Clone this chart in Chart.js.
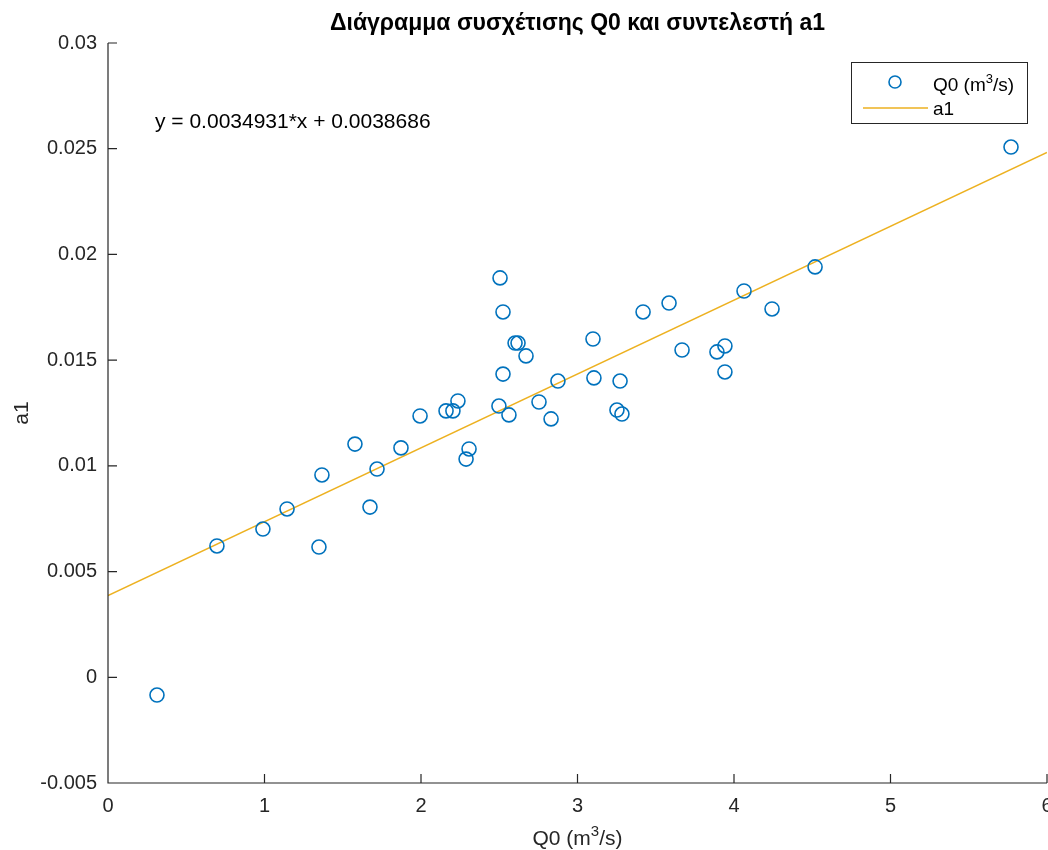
<!DOCTYPE html>
<html>
<head>
<meta charset="utf-8">
<script src="https://cdn.jsdelivr.net/npm/chart.js@4"></script>
<style>
    html, body { margin: 0; padding: 0; background: #ffffff; overflow: hidden; }
    #wrap { width: 1048px; height: 850px; position: relative; }
    canvas { display: block; }
</style>
</head>
<body>
<div id="wrap"><canvas id="grafico"></canvas></div>
<script>
// values
const q0 = [0.313, 0.696, 0.990, 1.144, 1.348, 1.367, 1.578, 1.674, 1.719, 1.872,
    1.994, 2.160, 2.204, 2.236, 2.288, 2.307, 2.505, 2.524, 2.524, 2.498,
    2.562, 2.601, 2.620, 2.671, 2.754, 2.831, 2.875, 3.099, 3.105, 3.252,
    3.284, 3.272, 3.419, 3.585, 3.668, 3.891, 3.942, 3.942, 4.064, 4.243,
    4.518, 5.770];
const a1 = [-0.00084, 0.00621, 0.00701, 0.00796, 0.00616, 0.00957, 0.01103, 0.00805, 0.00985, 0.01085,
    0.01236, 0.01260, 0.01260, 0.01307, 0.01032, 0.01080, 0.01889, 0.01728, 0.01434, 0.01283,
    0.01241, 0.01581, 0.01581, 0.01520, 0.01302, 0.01222, 0.01401, 0.01600, 0.01416, 0.01264,
    0.01245, 0.01401, 0.01728, 0.01770, 0.01548, 0.01539, 0.01567, 0.01444, 0.01827, 0.01742,
    0.01941, 0.02508];

const fitSlope = 0.0034931;
const fitIntercept = 0.0038686;
const fitX = [0, 6];

const xTicks = [0, 1, 2, 3, 4, 5, 6];
const yTicks = [-0.005, 0, 0.005, 0.01, 0.015, 0.02, 0.025, 0.03];

const titulo = "Διάγραμμα συσχέτισης Q0 και συντελεστή a1";
const rotuloY = "a1";
const legendaPontos = "Q0";
const legendaReta = "a1";
const equacao = "y = 0.0034931*x + 0.0038686";

const azul = "#0072BD";
const laranja = "#EDB120";
const texto = "#262626";
const fonte = "'Liberation Sans', Arial, Helvetica, sans-serif";

const pontos = q0.map((x, i) => ({ x: x, y: a1[i] }));
const reta = fitX.map((x) => ({ x: x, y: fitSlope * x + fitIntercept }));

// "Q0 (m³/s)" with a raised 3, drawn left-aligned at (x, y)
function unidade(ctx, prefixo, x, y, tamanho) {
    ctx.textAlign = "left";
    ctx.textBaseline = "alphabetic";
    let cx = x;
    const partes = [prefixo + " (m", "3", "/s)"];
    partes.forEach((p, i) => {
        if (i === 1) {
            ctx.font = Math.round(tamanho * 0.7) + "px " + fonte;
            ctx.fillText(p, cx, y - tamanho * 0.42);
        } else {
            ctx.font = tamanho + "px " + fonte;
            ctx.fillText(p, cx, y);
        }
        cx += ctx.measureText(p).width;
    });
    return cx - x;
}

function larguraUnidade(ctx, prefixo, tamanho) {
    ctx.font = tamanho + "px " + fonte;
    let w = ctx.measureText(prefixo + " (m").width + ctx.measureText("/s)").width;
    ctx.font = Math.round(tamanho * 0.7) + "px " + fonte;
    return w + ctx.measureText("3").width;
}

// inward ticks, axis lines, title, annotation, axis label and legend box
const extras = {
    id: "extras",
    afterDraw(chart) {
        const ctx = chart.ctx;
        const area = chart.chartArea;
        const sx = chart.scales.x;
        const sy = chart.scales.y;
        ctx.save();
        ctx.strokeStyle = texto;
        ctx.lineWidth = 1.2;
        ctx.beginPath();
        ctx.moveTo(area.left, area.top);
        ctx.lineTo(area.left, area.bottom);
        ctx.lineTo(area.right, area.bottom);
        xTicks.forEach((v) => {
            const px = sx.getPixelForValue(v);
            ctx.moveTo(px, area.bottom);
            ctx.lineTo(px, area.bottom - 9);
        });
        yTicks.forEach((v) => {
            const py = sy.getPixelForValue(v);
            ctx.moveTo(area.left, py);
            ctx.lineTo(area.left + 9, py);
        });
        ctx.stroke();

        // title, stretched to the reference width
        ctx.fillStyle = "#000000";
        let tam = 20;
        ctx.font = "bold " + tam + "px " + fonte;
        tam = Math.min(23, tam * 499 / ctx.measureText(titulo).width);
        ctx.font = "bold " + tam.toFixed(1) + "px " + fonte;
        ctx.textAlign = "center";
        ctx.textBaseline = "alphabetic";
        ctx.fillText(titulo, (area.left + area.right) / 2, 30);

        ctx.font = "21px " + fonte;
        ctx.textAlign = "left";
        ctx.fillText(equacao, 155, 128);

        // x axis title
        ctx.fillStyle = texto;
        const w = larguraUnidade(ctx, "Q0", 21);
        unidade(ctx, "Q0", (area.left + area.right) / 2 - w / 2, 845, 21);

        // legend
        ctx.fillStyle = "#ffffff";
        ctx.fillRect(851, 62, 176, 61);
        ctx.strokeStyle = texto;
        ctx.lineWidth = 1;
        ctx.strokeRect(851.5, 62.5, 176, 61);
        ctx.strokeStyle = azul;
        ctx.lineWidth = 1.6;
        ctx.beginPath();
        ctx.arc(895, 82, 6, 0, Math.PI * 2);
        ctx.stroke();
        ctx.strokeStyle = laranja;
        ctx.lineWidth = 1.5;
        ctx.beginPath();
        ctx.moveTo(863, 108);
        ctx.lineTo(928, 108);
        ctx.stroke();
        ctx.fillStyle = "#000000";
        unidade(ctx, legendaPontos, 933, 91, 19);
        ctx.font = "19px " + fonte;
        ctx.fillText(legendaReta, 933, 115);
        ctx.restore();
    }
};

new Chart(document.getElementById("grafico"), {
    type: "scatter",
    data: {
        datasets: [
            {
                label: legendaPontos,
                data: pontos,
                showLine: false,
                pointStyle: "circle",
                pointRadius: 7,
                pointHoverRadius: 7,
                pointBorderWidth: 1.6,
                pointBorderColor: azul,
                pointBackgroundColor: "rgba(0,0,0,0)",
                order: 1
            },
            {
                label: legendaReta,
                type: "line",
                data: reta,
                showLine: true,
                borderColor: laranja,
                borderWidth: 1.5,
                pointRadius: 0,
                fill: false,
                order: 2
            }
        ]
    },
    plugins: [extras],
    options: {
        responsive: true,
        maintainAspectRatio: false,
        animation: false,
        layout: { autoPadding: false, padding: { top: 43, right: 1, left: 0, bottom: 0 } },
        scales: {
            x: {
                type: "linear",
                min: 0,
                max: 6,
                afterBuildTicks: (scale) => { scale.ticks = xTicks.map((v) => ({ value: v })); },
                afterFit: (scale) => {
                    scale.height = 67;
                    scale.paddingLeft = 0;
                    scale.paddingRight = 0;
                },
                grid: { display: false, drawTicks: false },
                border: { display: false },
                ticks: {
                    padding: 11,
                    color: texto,
                    font: { family: fonte, size: 20 },
                    maxRotation: 0
                }
            },
            y: {
                type: "linear",
                min: -0.005,
                max: 0.03,
                afterBuildTicks: (scale) => { scale.ticks = yTicks.map((v) => ({ value: v })); },
                afterFit: (scale) => {
                    scale.width = 108;
                    scale.paddingTop = 0;
                    scale.paddingBottom = 0;
                },
                grid: { display: false, drawTicks: false },
                border: { display: false },
                ticks: {
                    padding: 11,
                    color: texto,
                    font: { family: fonte, size: 20 },
                    callback: (v) => String(Math.round(v * 1000) / 1000)
                },
                title: {
                    display: true,
                    text: rotuloY,
                    color: texto,
                    font: { family: fonte, size: 21 },
                    padding: { top: 10, bottom: 0 }
                }
            }
        },
        plugins: {
            legend: { display: false },
            title: { display: false },
            tooltip: { enabled: false }
        }
    }
});
</script>
</body>
</html>
